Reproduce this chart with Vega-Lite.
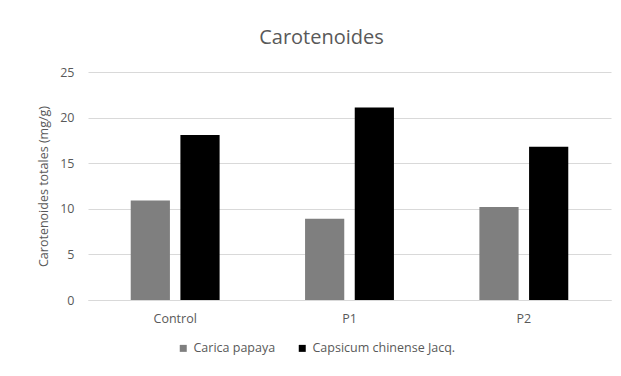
{
  "$schema": "https://vega.github.io/schema/vega-lite/v6.json",
  "autosize": {"type": "none"},
  "padding": {"left": 88, "top": 72, "right": 10, "bottom": 76},
  "width": 523,
  "height": 228,
  "background": "white",
  "config": {
    "font": "Open Sans",
    "view": {"stroke": null}
  },
  "title": {
    "text": "Carotenoides",
    "fontSize": 20,
    "fontWeight": "normal",
    "color": "#595959",
    "anchor": "middle",
    "dx": -28,
    "offset": 18,
    "font": "Open Sans"
  },
  "data": {
    "values": [
      {"tratamiento": "Control", "serie": "Carica papaya", "valor": 10.9},
      {"tratamiento": "Control", "serie": "Capsicum chinense Jacq.", "valor": 18.1},
      {"tratamiento": "P1", "serie": "Carica papaya", "valor": 8.9},
      {"tratamiento": "P1", "serie": "Capsicum chinense Jacq.", "valor": 21.1},
      {"tratamiento": "P2", "serie": "Carica papaya", "valor": 10.2},
      {"tratamiento": "P2", "serie": "Capsicum chinense Jacq.", "valor": 16.8}
    ]
  },
  "mark": {"type": "bar"},
  "encoding": {
    "x": {
      "field": "tratamiento",
      "type": "nominal",
      "sort": ["Control", "P1", "P2"],
      "scale": {"paddingInner": 0, "paddingOuter": 0},
      "axis": {
        "title": null,
        "labelAngle": 0,
        "labelFontSize": 12.5,
        "labelColor": "#595959",
        "labelPadding": 12,
        "ticks": false,
        "domainColor": "#d9d9d9",
        "domainWidth": 1
      }
    },
    "xOffset": {
      "field": "serie",
      "type": "nominal",
      "sort": ["Carica papaya", "Capsicum chinense Jacq."],
      "scale": {"paddingInner": 0.211, "paddingOuter": 0.86}
    },
    "y": {
      "field": "valor",
      "type": "quantitative",
      "scale": {"domain": [0, 25]},
      "axis": {
        "title": "Carotenoides totales (mg/g)",
        "titleFontSize": 12.5,
        "titleFontWeight": "normal",
        "titleColor": "#595959",
        "titlePadding": 9,
        "values": [0, 5, 10, 15, 20, 25],
        "labelFontSize": 12.5,
        "labelColor": "#595959",
        "labelPadding": 14,
        "ticks": false,
        "domain": false,
        "gridColor": "#d9d9d9",
        "gridWidth": 1
      }
    },
    "color": {
      "field": "serie",
      "type": "nominal",
      "sort": ["Carica papaya", "Capsicum chinense Jacq."],
      "scale": {"domain": ["Carica papaya", "Capsicum chinense Jacq."], "range": ["#7f7f7f", "#000000"]},
      "legend": {
        "title": null,
        "orient": "none",
        "direction": "horizontal",
        "legendX": 89,
        "legendY": 270,
        "symbolType": "square",
        "symbolSize": 49,
        "symbolStrokeWidth": 0,
        "labelFontSize": 12.5,
        "labelColor": "#595959",
        "labelOffset": 4,
        "columnPadding": 20
      }
    }
  }
}
